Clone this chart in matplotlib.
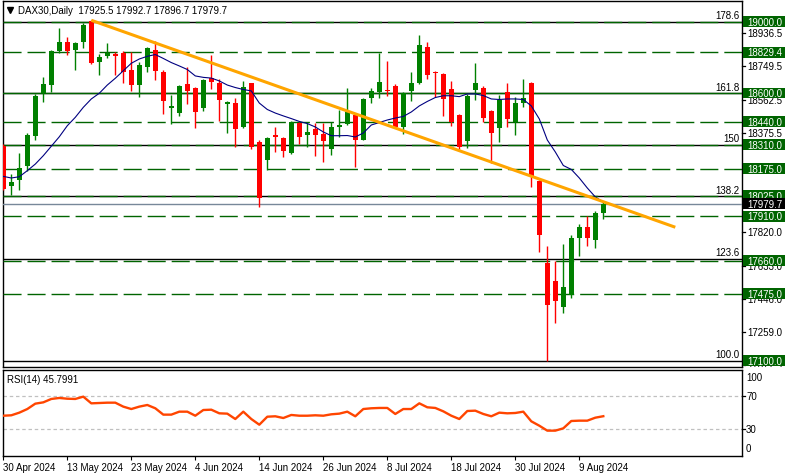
import matplotlib
matplotlib.use('Agg')
import matplotlib.pyplot as plt
import matplotlib.transforms as mtransforms
from matplotlib.patches import Rectangle
import numpy as np

plt.rcParams['font.family'] = ['Liberation Sans', 'DejaVu Sans']
plt.rcParams['lines.scale_dashes'] = False

# ---------------- data ----------------
opens = [18304, 18081, 18114, 18193, 18361, 18599, 18647, 18837, 18886, 18843,
         18888, 19006, 18776, 18809, 18821, 18825, 18729, 18647, 18748, 18841,
         18720, 18518, 18488, 18651, 18628, 18518, 18684, 18656, 18537, 18544,
         18411, 18656, 18326, 18227, 18365, 18348, 18264, 18431, 18367, 18399,
         18371, 18287, 18411, 18427, 18475, 18337, 18574, 18608, 18617, 18641,
         18411, 18613, 18656, 18860, 18718, 18707, 18623, 18475, 18333, 18617,
         18628, 18499, 18406, 18605, 18436, 18544, 18656, 18109, 17648, 17548,
         17403, 17470, 17788, 17851, 17777, 17925.5]
highs = [18315, 18146, 18264, 18376, 18595, 18692, 18843, 18965, 18916, 18888,
         18993, 19008, 18819, 18881, 18829, 18834, 18829, 18772, 18860, 18894,
         18729, 18589, 18647, 18744, 18636, 18679, 18815, 18679, 18554, 18572,
         18666, 18656, 18335, 18352, 18408, 18355, 18445, 18436, 18440, 18431,
         18431, 18436, 18507, 18628, 18479, 18571, 18628, 18823, 18780, 18651,
         18608, 18720, 18925, 18888, 18722, 18711, 18669, 18483, 18595, 18769,
         18641, 18505, 18589, 18656, 18576, 18679, 18660, 18115, 17741, 17660,
         17754, 17806, 17866, 17909, 17941, 17992.7]
lows = [18057, 18029, 18058, 18163, 18339, 18552, 18608, 18823, 18815, 18731,
        18851, 18763, 18701, 18797, 18701, 18656, 18613, 18576, 18720, 18675,
        18483, 18427, 18470, 18539, 18402, 18501, 18623, 18445, 18378, 18296,
        18406, 18287, 17961, 18169, 18268, 18243, 18258, 18314, 18296, 18249,
        18215, 18255, 18356, 18419, 18187, 18337, 18543, 18571, 18585, 18402,
        18371, 18557, 18651, 18679, 18576, 18474, 18417, 18287, 18290, 18561,
        18436, 18206, 18324, 18411, 18367, 18520, 18075, 17711, 17100, 17311,
        17367, 17451, 17688, 17745, 17732, 17896.7]
closes = [18060, 18103, 18180, 18367, 18584, 18651, 18837, 18886, 18837, 18882,
          18981, 18769, 18804, 18823, 18809, 18716, 18647, 18757, 18853, 18725,
          18557, 18529, 18641, 18613, 18496, 18673, 18664, 18563, 18550, 18400,
          18636, 18296, 18010, 18348, 18352, 18274, 18440, 18352, 18380, 18367,
          18333, 18408, 18421, 18496, 18337, 18567, 18613, 18660, 18612, 18408,
          18600, 18656, 18869, 18701, 18712, 18567, 18436, 18296, 18585, 18655,
          18459, 18374, 18563, 18455, 18544, 18571, 18128, 17806, 17414, 17436,
          17511, 17788, 17851, 17788, 17928, 17979.7]
ma_values = [18133, 18124, 18131, 18165, 18202, 18249, 18302, 18355, 18417, 18464,
             18520, 18567, 18599, 18645, 18683, 18725, 18767, 18791, 18806, 18816,
             18794, 18771, 18752, 18732, 18696, 18688, 18684, 18668, 18645, 18631,
             18620, 18612, 18544, 18508, 18488, 18472, 18457, 18441, 18429, 18410,
             18382, 18361, 18361, 18362, 18354, 18376, 18421, 18435, 18449, 18460,
             18469, 18494, 18528, 18553, 18575, 18585, 18585, 18580, 18595, 18595,
             18586, 18567, 18564, 18567, 18567, 18564, 18528, 18455, 18337, 18270,
             18194, 18172, 18124, 18068, 18018, 17988]
rsi_values = [46.4, 46.9, 50.1, 54.5, 61.0, 62.6, 66.7, 67.9, 67.0, 66.7,
              69.5, 61.4, 61.8, 62.2, 62.2, 57.4, 54.5, 57.4, 59.4, 55.4,
              47.7, 47.7, 51.3, 51.3, 46.4, 53.3, 53.7, 49.3, 48.9, 42.4,
              51.3, 42.4, 35.5, 45.2, 45.7, 43.6, 47.3, 46.4, 46.4, 46.9,
              46.4, 48.1, 48.9, 51.3, 45.7, 54.5, 55.4, 55.8, 55.8, 48.5,
              54.5, 54.5, 61.4, 56.6, 55.8, 51.7, 46.4, 42.4, 52.1, 52.5,
              48.5, 45.7, 50.1, 49.3, 49.7, 51.3, 39.6, 34.3, 28.3, 28.3,
              31.1, 40.0, 40.4, 40.4, 44.0, 45.8]

date_tick_idx = [0, 8, 16, 24, 32, 40, 48, 56, 64, 72]
date_labels = ['30 Apr 2024', '13 May 2024', '23 May 2024', '4 Jun 2024', '14 Jun 2024',
               '26 Jun 2024', '8 Jul 2024', '18 Jul 2024', '30 Jul 2024', '9 Aug 2024']

trend_idx = [11, 84]
trend_price = [19008, 17848]

fib_labels = ['100.0', '123.6', '138.2', '150', '161.8', '178.6']
fib_prices = [17100, 17670, 18023, 18309, 18600, 19000]

level_prices = [19000.0, 18829.4, 18600.0, 18440.0, 18310.0, 18175.0,
                18025.0, 17910.0, 17660.0, 17475.0, 17100.0]
level_solid = [False, False, True, False, False, False, False, False, False, False, None]

price_ticks = [18936.5, 18749.5, 18562.5, 18375.5,
               17820.0, 17633.0, 17446.0, 17259.0, 17077.5]
current_price = 17979.7
rsi_ticks = [100, 70, 30, 0]
rsi_last = 45.7991
title_text = 'DAX30,Daily  17925.5 17992.7 17896.7 17979.7'

# ---------------- layout ----------------
W, H = 787, 477
fig = plt.figure(figsize=(W / 100, H / 100), dpi=100)

L, R = 2.7, 741.7
main_top, main_bot = 2.3, 368.0
rsi_top, rsi_bot = 370.5, 456.7

def fx(px):
    return px / W

def fy(py):
    return 1 - py / H

ax = fig.add_axes([fx(L), fy(main_bot), fx(R - L), (main_bot - main_top) / H])
axr = fig.add_axes([fx(L), fy(rsi_bot), fx(R - L), (rsi_bot - rsi_top) / H])

XLIM = (-0.075, 92.3)
YLIM = (17064.7, 19114.3)
RLIM = (-2.06, 102.4)
ppp = (YLIM[1] - YLIM[0]) / (main_bot - main_top)  # price per pixel

for a in (ax, axr):
    a.set_xlim(*XLIM)
    for s in a.spines.values():
        s.set_linewidth(1.0)
        s.set_color('black')
ax.set_ylim(*YLIM)
axr.set_ylim(*RLIM)
ax.set_xticks([])
ax.set_yticks([])
axr.set_yticks([])

# horizontal levels
for p in fib_prices:
    ax.axhline(p, color='black', lw=1.0, zorder=2)
for p, solid in zip(level_prices, level_solid):
    if solid is None:
        continue
    ls = '-' if solid else (0, (13, 4.3))
    ax.axhline(p, color='#006400', lw=1.0, ls=ls, zorder=3)
ax.axhline(current_price, color='#778899', lw=1.0, zorder=3)

# fib labels
trans_fib = mtransforms.offset_copy(ax.get_yaxis_transform(), fig=fig, y=1.5, units='dots')
for lab, p in zip(fib_labels, fib_prices):
    ax.text((739.3 - L) / (R - L), p, lab, transform=trans_fib, ha='right', va='bottom',
            fontsize=7, color='black', zorder=4)

# candles
idx = np.arange(len(closes))
o = np.array(opens); h = np.array(highs); l = np.array(lows); c = np.array(closes)
cols = np.where(c >= o, '#008000', '#FF0000')
ax.vlines(idx, l, h, colors=cols, lw=1.0, zorder=5)
body_lo = np.minimum(o, c)
body_h = np.maximum(np.abs(c - o), 1.0 * ppp)
ax.bar(idx, body_h, bottom=body_lo, width=0.62, color=cols, lw=0, zorder=6)

# moving average and trend line
ax.plot(idx, ma_values, color='#000080', lw=0.8, zorder=7)
ax.plot(trend_idx, trend_price, color='#FFA500', lw=2.2, zorder=8, solid_capstyle='butt')

# title
ax.plot([(9.7 - L) / (R - L)], [1 - (11 - main_top) / (main_bot - main_top)], marker='v',
        ms=4.5, color='black', transform=ax.transAxes, clip_on=False, zorder=9)
ax.text((17.5 - L) / (R - L), 1 - (11 - main_top) / (main_bot - main_top), title_text,
        transform=ax.transAxes, ha='left', va='center', fontsize=7, zorder=9)

# right price label strip
axl = fig.add_axes([fx(R), fy(main_bot), fx(W - R), (main_bot - main_top) / H])
axl.set_xlim(R, W)
axl.set_ylim(*YLIM)
axl.axis('off')
for p in price_ticks:
    axl.plot([R, R + 3.5], [p, p], color='black', lw=0.9, clip_on=False, zorder=1)
    axl.text(747.5, p, f'{p:.1f}', fontsize=7, ha='left', va='center', zorder=2, clip_on=True)
for p in level_prices:
    axl.add_patch(Rectangle((743, p - 5.4 * ppp), 41.7, 10.8 * ppp, fc='#006400', ec='none', zorder=3))
    axl.text(747.5, p, f'{p:.1f}', fontsize=7, color='white', ha='left', va='center', zorder=4)
axl.add_patch(Rectangle((743, current_price - 5.4 * ppp), 41.7, 10.8 * ppp, fc='black', ec='none', zorder=5))
axl.text(747.5, current_price, f'{current_price:.1f}', fontsize=7, color='white', ha='left',
         va='center', zorder=6)

# RSI panel
axr.axhline(70, color='#C0C0C0', lw=0.9, ls=(0, (2.5, 2)), zorder=1)
axr.axhline(30, color='#C0C0C0', lw=0.9, ls=(0, (2.5, 2)), zorder=1)
axr.plot(idx, rsi_values, color='#FF4500', lw=1.7, zorder=3)
axr.text((7.3 - L) / (R - L), 1 - (380 - rsi_top) / (rsi_bot - rsi_top), f'RSI(14) {rsi_last}',
         transform=axr.transAxes, ha='left', va='center', fontsize=7)

axr.set_xticks(date_tick_idx)
axr.set_xticklabels(date_labels, fontsize=7, ha='left')
axr.tick_params(axis='x', direction='out', length=3, width=0.8, pad=1.5)

axrl = fig.add_axes([fx(R), fy(rsi_bot), fx(W - R), (rsi_bot - rsi_top) / H])
axrl.set_xlim(R, W)
axrl.set_ylim(*RLIM)
axrl.axis('off')
for v in rsi_ticks:
    if v in (70, 30):
        axrl.plot([R, R + 3.5], [v, v], color='black', lw=0.9, clip_on=False)
    va = 'top' if v == 100 else ('bottom' if v == 0 else 'center')
    yy = v - 1 if v == 100 else (v + 1.5 if v == 0 else v)
    axrl.text(746, yy, str(v), fontsize=7, ha='left', va=va)

fig.savefig('out.png', dpi=100)
